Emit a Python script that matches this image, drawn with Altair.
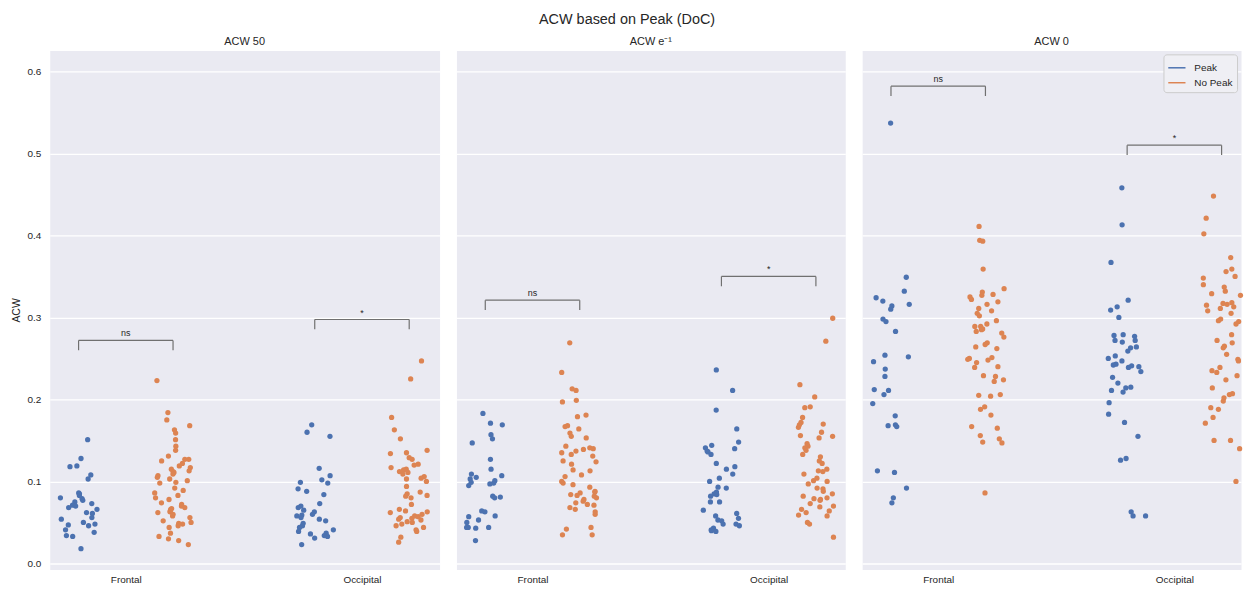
import math
import altair as alt
import pandas as pd

# ---------------- data ----------------
categories = ["Frontal", "Occipital"]
groups = ["Peak", "No Peak"]
panels = ["ACW 50", "ACW e\u207b\u00b9", "ACW 0"]
y_ticks = [0.0, 0.1, 0.2, 0.3, 0.4, 0.5, 0.6]
colors = ["#4C72B0", "#DD8452"]

acw50_frontal_peak = [0.151, 0.128, 0.119, 0.118, 0.108, 0.103, 0.086, 0.085, 0.083, 0.080,
                      0.079, 0.077, 0.075, 0.073, 0.071, 0.070, 0.068, 0.066, 0.062, 0.061,
                      0.056, 0.054, 0.050, 0.048, 0.047, 0.046, 0.041, 0.038, 0.034, 0.033, 0.018]
acw50_frontal_nopeak = [0.223, 0.184, 0.175, 0.168, 0.163, 0.159, 0.151, 0.143, 0.138, 0.131,
                        0.127, 0.127, 0.125, 0.122, 0.119, 0.117, 0.115, 0.113, 0.112, 0.111,
                        0.109, 0.107, 0.105, 0.103, 0.101, 0.099, 0.098, 0.092, 0.089, 0.086,
                        0.083, 0.080, 0.078, 0.074, 0.072, 0.070, 0.068, 0.067, 0.066, 0.064,
                        0.063, 0.062, 0.060, 0.058, 0.056, 0.052, 0.050, 0.049, 0.048, 0.046,
                        0.044, 0.037, 0.033, 0.030, 0.028, 0.023]
acw50_occipital_peak = [0.169, 0.160, 0.155, 0.116, 0.107, 0.102, 0.099, 0.098, 0.091, 0.088,
                        0.084, 0.073, 0.070, 0.068, 0.065, 0.063, 0.060, 0.059, 0.058, 0.056,
                        0.054, 0.052, 0.049, 0.046, 0.044, 0.041, 0.039, 0.037, 0.036, 0.034,
                        0.033, 0.031, 0.023]
acw50_occipital_nopeak = [0.247, 0.225, 0.178, 0.163, 0.152, 0.138, 0.135, 0.134, 0.129, 0.127,
                          0.121, 0.120, 0.117, 0.115, 0.114, 0.112, 0.111, 0.109, 0.106, 0.104,
                          0.103, 0.100, 0.094, 0.087, 0.085, 0.083, 0.082, 0.080, 0.072, 0.066,
                          0.064, 0.063, 0.062, 0.060, 0.058, 0.057, 0.056, 0.055, 0.054, 0.053,
                          0.051, 0.050, 0.048, 0.046, 0.044, 0.041, 0.039, 0.032, 0.026]

acwe_frontal_peak = [0.183, 0.171, 0.169, 0.157, 0.152, 0.147, 0.127, 0.115, 0.109, 0.107,
                     0.105, 0.103, 0.101, 0.099, 0.098, 0.097, 0.095, 0.082, 0.081, 0.080,
                     0.064, 0.063, 0.058, 0.057, 0.053, 0.050, 0.044, 0.044, 0.044, 0.043, 0.028]
acwe_frontal_nopeak = [0.269, 0.233, 0.213, 0.211, 0.199, 0.197, 0.181, 0.179, 0.168, 0.167,
                       0.164, 0.159, 0.155, 0.153, 0.143, 0.141, 0.140, 0.139, 0.137, 0.135,
                       0.133, 0.131, 0.125, 0.124, 0.121, 0.114, 0.113, 0.108, 0.106, 0.100,
                       0.098, 0.096, 0.093, 0.088, 0.087, 0.086, 0.084, 0.083, 0.082, 0.080,
                       0.078, 0.076, 0.074, 0.072, 0.071, 0.068, 0.066, 0.063, 0.060, 0.044,
                       0.042, 0.035, 0.035]
acwe_occipital_peak = [0.236, 0.211, 0.187, 0.164, 0.148, 0.144, 0.141, 0.140, 0.137, 0.136,
                       0.133, 0.122, 0.118, 0.115, 0.109, 0.104, 0.100, 0.093, 0.092, 0.087,
                       0.085, 0.084, 0.082, 0.075, 0.075, 0.065, 0.061, 0.058, 0.055, 0.053,
                       0.052, 0.048, 0.048, 0.046, 0.043, 0.041, 0.040, 0.039]
acwe_occipital_nopeak = [0.299, 0.271, 0.218, 0.203, 0.191, 0.190, 0.178, 0.172, 0.170, 0.169,
                         0.166, 0.160, 0.156, 0.155, 0.153, 0.146, 0.143, 0.141, 0.138, 0.133,
                         0.130, 0.125, 0.122, 0.115, 0.113, 0.112, 0.109, 0.104, 0.101, 0.100,
                         0.097, 0.092, 0.091, 0.088, 0.085, 0.082, 0.080, 0.079, 0.078, 0.077,
                         0.073, 0.070, 0.069, 0.066, 0.064, 0.062, 0.059, 0.058, 0.050, 0.048,
                         0.032]

acw0_frontal_peak = [0.537, 0.349, 0.332, 0.324, 0.320, 0.316, 0.314, 0.310, 0.298, 0.295,
                     0.283, 0.254, 0.252, 0.246, 0.237, 0.228, 0.212, 0.211, 0.206, 0.195,
                     0.180, 0.169, 0.168, 0.167, 0.113, 0.111, 0.092, 0.080, 0.074]
acw0_frontal_nopeak = [0.411, 0.394, 0.393, 0.359, 0.335, 0.331, 0.328, 0.327, 0.325, 0.322,
                       0.319, 0.316, 0.311, 0.308, 0.305, 0.302, 0.296, 0.292, 0.289, 0.289,
                       0.286, 0.285, 0.283, 0.281, 0.276, 0.269, 0.267, 0.264, 0.262, 0.251,
                       0.250, 0.249, 0.248, 0.245, 0.240, 0.239, 0.229, 0.228, 0.224, 0.222,
                       0.206, 0.205, 0.204, 0.191, 0.188, 0.181, 0.167, 0.165, 0.156, 0.152,
                       0.148, 0.147, 0.086]
acw0_occipital_peak = [0.458, 0.413, 0.367, 0.321, 0.313, 0.309, 0.300, 0.279, 0.278, 0.277,
                       0.272, 0.272, 0.270, 0.264, 0.263, 0.259, 0.253, 0.250, 0.247, 0.243,
                       0.242, 0.241, 0.240, 0.239, 0.234, 0.227, 0.220, 0.215, 0.214, 0.211,
                       0.209, 0.196, 0.182, 0.172, 0.155, 0.128, 0.126, 0.063, 0.058, 0.058]
acw0_occipital_nopeak = [0.448, 0.421, 0.402, 0.373, 0.359, 0.356, 0.350, 0.348, 0.340, 0.337,
                         0.332, 0.329, 0.327, 0.318, 0.317, 0.316, 0.315, 0.313, 0.311, 0.308,
                         0.305, 0.298, 0.296, 0.295, 0.292, 0.279, 0.272, 0.269, 0.265, 0.263,
                         0.255, 0.249, 0.247, 0.239, 0.235, 0.233, 0.229, 0.224, 0.214, 0.207,
                         0.206, 0.202, 0.198, 0.190, 0.188, 0.178, 0.171, 0.150, 0.150, 0.140,
                         0.100]

# significance annotations (bracket height and label)
bracket_panel = [panels[0], panels[0], panels[1], panels[1], panels[2], panels[2]]
bracket_region = ["Frontal", "Occipital", "Frontal", "Occipital", "Frontal", "Occipital"]
bracket_height = [0.272, 0.2975, 0.321, 0.350, 0.582, 0.510]
bracket_label = ["ns", "*", "ns", "*", "ns", "*"]

# ---------------- tables ----------------
series = {
    (panels[0], "Frontal", "Peak"): acw50_frontal_peak,
    (panels[0], "Frontal", "No Peak"): acw50_frontal_nopeak,
    (panels[0], "Occipital", "Peak"): acw50_occipital_peak,
    (panels[0], "Occipital", "No Peak"): acw50_occipital_nopeak,
    (panels[1], "Frontal", "Peak"): acwe_frontal_peak,
    (panels[1], "Frontal", "No Peak"): acwe_frontal_nopeak,
    (panels[1], "Occipital", "Peak"): acwe_occipital_peak,
    (panels[1], "Occipital", "No Peak"): acwe_occipital_nopeak,
    (panels[2], "Frontal", "Peak"): acw0_frontal_peak,
    (panels[2], "Frontal", "No Peak"): acw0_frontal_nopeak,
    (panels[2], "Occipital", "Peak"): acw0_occipital_peak,
    (panels[2], "Occipital", "No Peak"): acw0_occipital_nopeak,
}

DODGE = 0.2
JITTER = 0.08
rows = []
for (p, c, g), vals in series.items():
    pi, ci, gi = panels.index(p), categories.index(c), groups.index(g)
    for i, v in enumerate(vals):
        h = math.sin((i + 1) * 12.9898 + (ci * 2 + gi + 1) * 78.233 + pi * 37.719) * 43758.5453
        jit = (h - math.floor(h) - 0.5) * 2 * JITTER
        rows.append({"panel": p, "region": c, "group": g, "acw": v,
                     "pos": ci + (gi - 0.5) * 2 * DODGE + jit})
points = pd.DataFrame(rows)

brackets = pd.DataFrame({"panel": bracket_panel, "region": bracket_region,
                         "y": bracket_height, "label": bracket_label})
brackets["xm"] = brackets["region"].map(categories.index).astype(float)
brackets["x1"] = brackets["xm"] - DODGE
brackets["x2"] = brackets["xm"] + DODGE
brackets["ytip"] = brackets["y"] - 0.012

FONT = "Liberation Sans"
TEXT = "#262626"
PX_PER_UNIT = 237.5
X_LO = -0.322
Y_DOMAIN = [-0.0073, 0.6256]
PLOT_H = 522
label_expr = "[" + ",".join("'%s'" % c for c in categories) + "][datum.value]"


def make_panel(k, width):
    name = panels[k]
    pts = points[points.panel == name]
    br = brackets[brackets.panel == name]
    xs = alt.Scale(domain=[X_LO, X_LO + width / PX_PER_UNIT], nice=False, zero=False)
    ys = alt.Scale(domain=Y_DOMAIN, nice=False, zero=False)
    xaxis = alt.Axis(values=[0, 1], labelExpr=label_expr, title=None, grid=False,
                     ticks=False, domain=False, labelPadding=5, labelFontSize=10,
                     labelColor=TEXT, labelFont=FONT)
    if k == 0:
        yaxis = alt.Axis(values=y_ticks, format=".1f", title="ACW", ticks=False,
                         domain=False, labelPadding=9, labelFontSize=10,
                         labelColor=TEXT, labelFont=FONT, titleFont=FONT,
                         titleFontSize=10.5, titleFontWeight="normal", titleColor=TEXT,
                         titlePadding=6)
    else:
        yaxis = alt.Axis(values=y_ticks, labels=False, title=None, ticks=False, domain=False)

    X = lambda f: alt.X(f + ":Q", scale=xs, axis=xaxis)
    Y = lambda f: alt.Y(f + ":Q", scale=ys, axis=yaxis)
    cscale = alt.Scale(domain=groups, range=colors)

    layers = []
    if k == 2:
        # invisible line layer that only carries the line-style legend
        leg = alt.Chart(pts).mark_line(strokeWidth=1.5, opacity=0).encode(
            x=X("pos"), y=Y("acw"), detail="group:N",
            stroke=alt.Stroke("group:N", scale=cscale, legend=alt.Legend(
                title=None, orient="top-right", offset=4, symbolType="stroke",
                symbolStrokeWidth=1.5, symbolSize=300, symbolOpacity=1,
                labelFontSize=10, labelFont=FONT, labelColor=TEXT, labelOffset=8,
                fillColor="#EFEFF4", strokeColor="#CCCCCC", padding=4,
                cornerRadius=3, rowPadding=0)),
        )
        layers.append(leg)

    dots = alt.Chart(pts).mark_circle(size=28, opacity=1).encode(
        x=X("pos"), y=Y("acw"),
        color=alt.Color("group:N", scale=cscale, legend=None),
    )
    base = alt.Chart(br)
    rule_style = dict(color="#707070", strokeWidth=1.2)
    top = base.mark_rule(**rule_style).encode(x=X("x1"), x2="x2", y=Y("y"))
    left = base.mark_rule(**rule_style).encode(x=X("x1"), y=Y("y"), y2="ytip")
    right = base.mark_rule(**rule_style).encode(x=X("x2"), y=Y("y"), y2="ytip")
    txt = base.mark_text(baseline="bottom", dy=-2, fontSize=9, font=FONT, color=TEXT).encode(
        x=X("xm"), y=Y("y"), text="label:N")
    layers += [dots, top, left, right, txt]
    return alt.layer(*layers).properties(
        width=width, height=PLOT_H,
        title=alt.Title(name, fontSize=11, fontWeight="normal", font=FONT,
                        color=TEXT, offset=3),
    )


chart = alt.hconcat(
    make_panel(0, 392), make_panel(1, 391), make_panel(2, 381), spacing=15
).resolve_scale(color="independent", stroke="independent").resolve_legend(
    color="independent", stroke="independent"
).properties(
    title=alt.Title("ACW based on Peak (DoC)", fontSize=14.5, fontWeight="normal",
                    font=FONT, color=TEXT, anchor="middle", offset=9),
    padding={"left": 2, "top": 2, "right": 0, "bottom": 0},
).configure_view(fill="#EAEAF2", stroke="transparent").configure_axis(
    gridColor="#FFFFFF", gridWidth=1.3
)

chart.save("out.html", embed_options={"renderer": "svg", "actions": False})
